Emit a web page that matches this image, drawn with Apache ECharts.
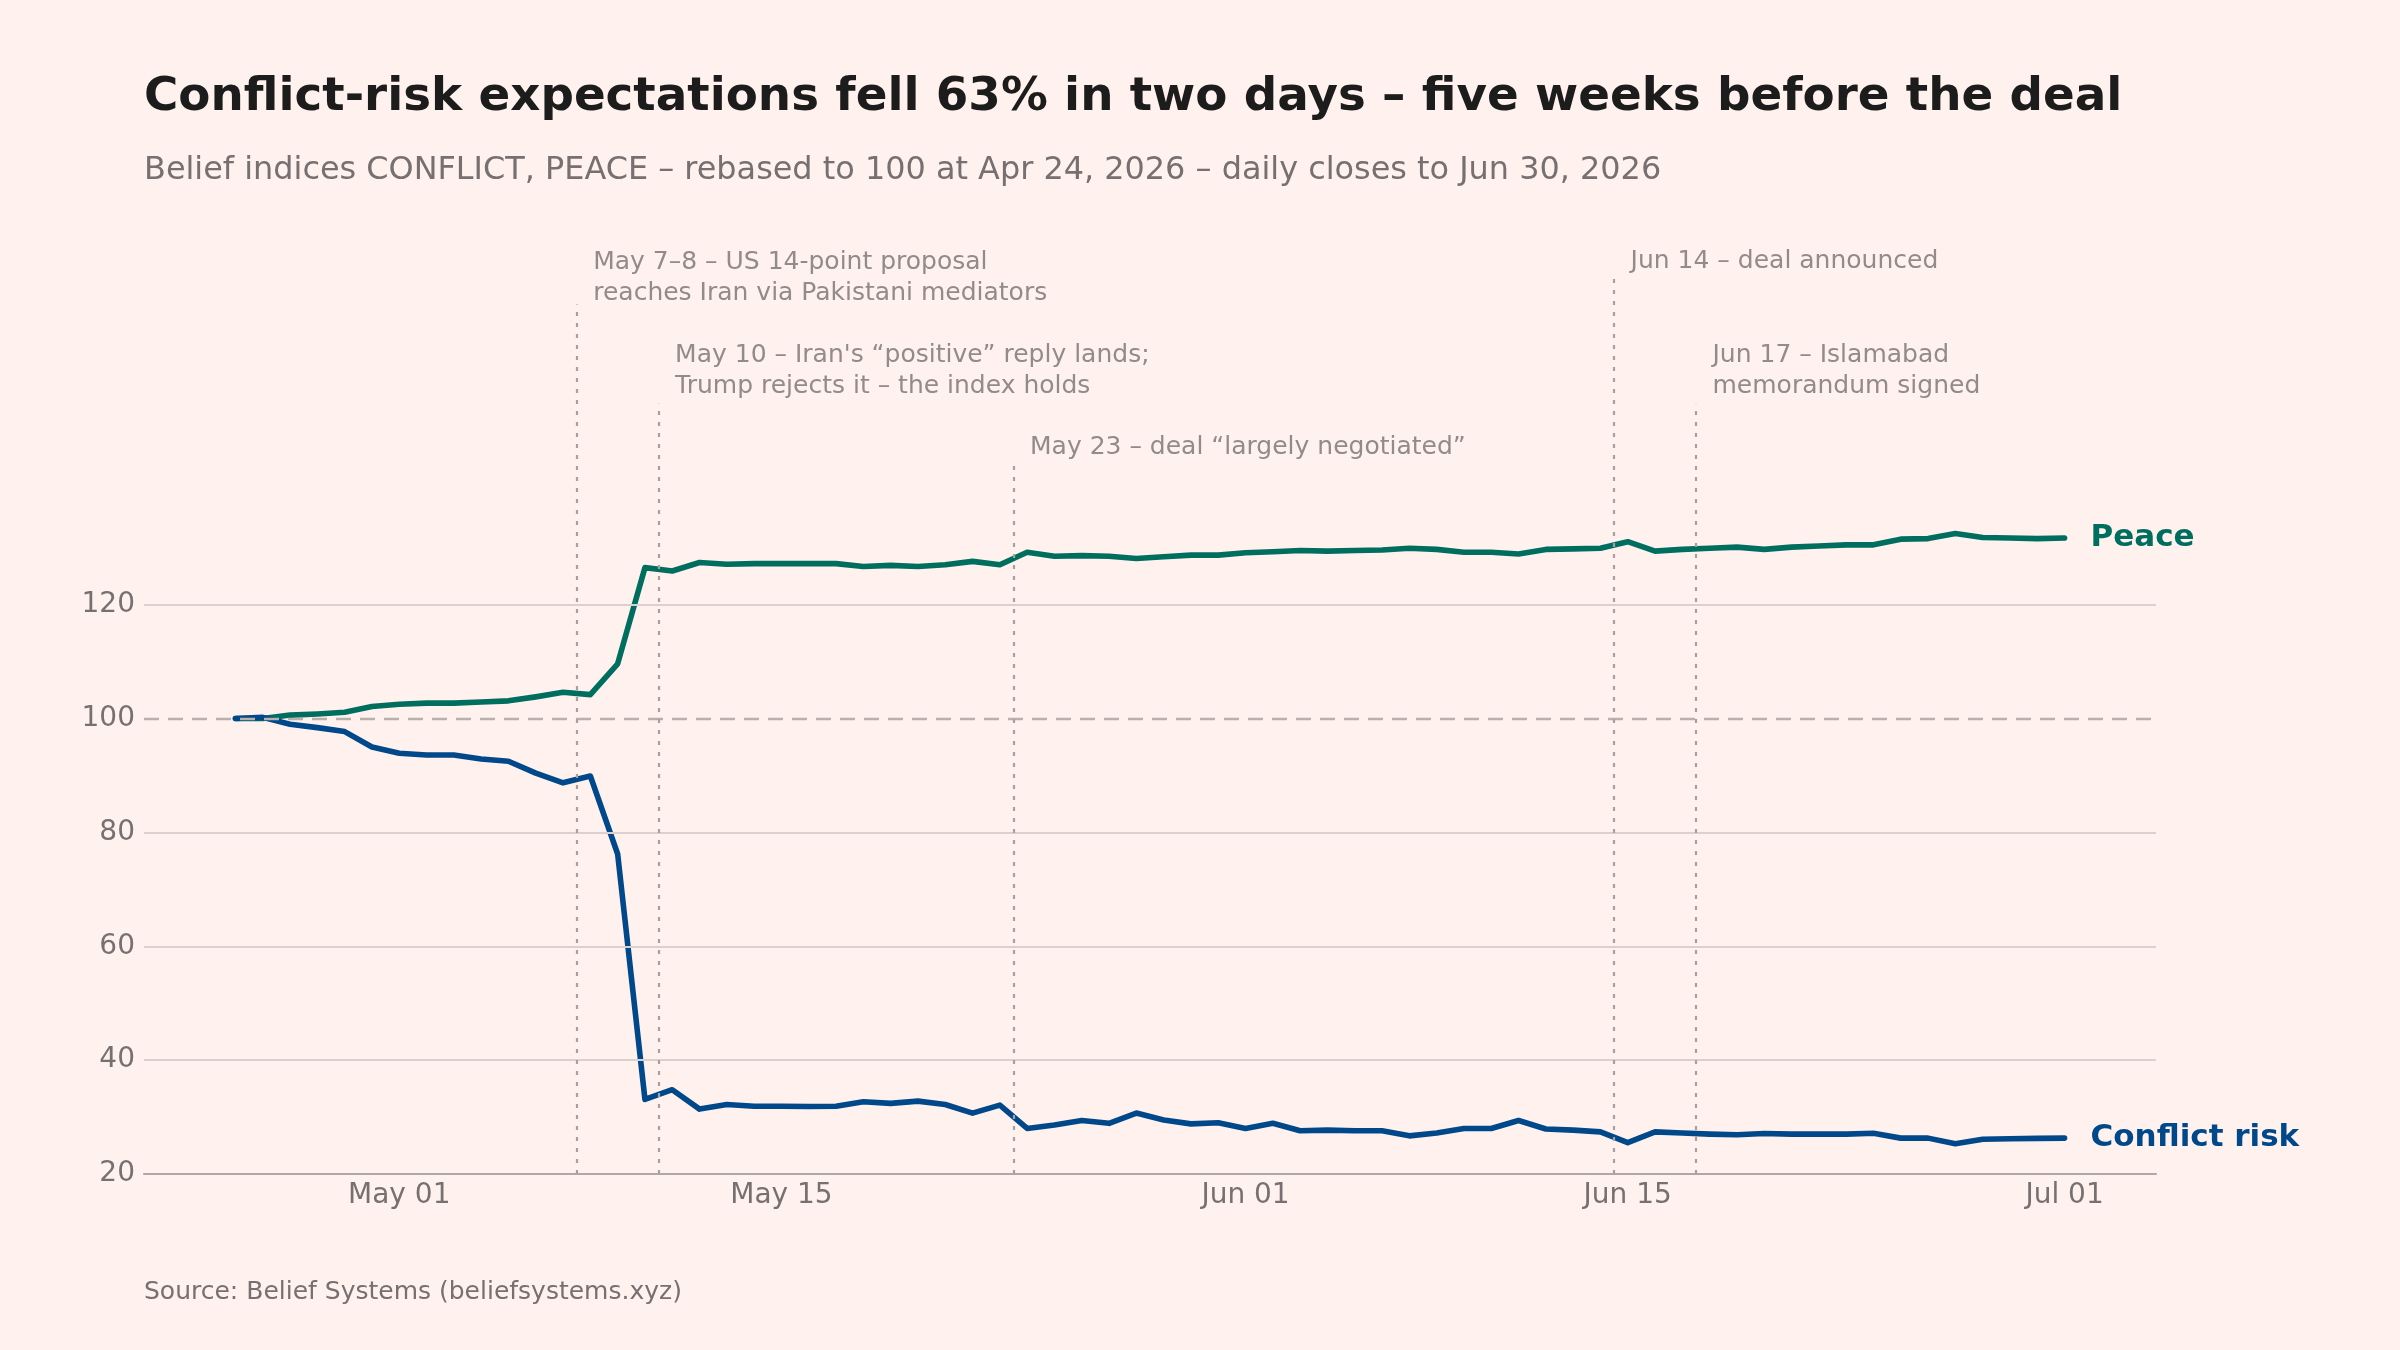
<!DOCTYPE html>
<html>
<head>
<meta charset="utf-8">
<script src="https://cdn.jsdelivr.net/npm/echarts@6/dist/echarts.min.js"></script>
<style>
  html, body { margin: 0; padding: 0; background: #FFF2EE; }
  #chart { width: 2400px; height: 1350px; }
</style>
</head>
<body>
<div id="chart"></div>
<script>
// ---------------- DATA ----------------
const startDate = '2026-04-25';   // first plotted daily close
const dayCount = 68;              // through 2026-07-01 (plot position)

const conflictValues = [
  100.0, 100.2, 99.0, 98.4, 97.7, 95.0,
  93.9, 93.6, 93.6, 92.9, 92.5, 90.4, 88.7, 89.9, 76.2, 33.1,
  34.8, 31.4, 32.2, 31.9, 31.9, 31.85, 31.9, 32.7, 32.4, 32.8,
  32.2, 30.7, 32.1, 28.0, 28.6, 29.4, 28.9, 30.7, 29.5, 28.8, 29.0,
  28.0, 28.9, 27.6, 27.7, 27.6, 27.6, 26.7, 27.2, 28.0, 28.0,
  29.4, 27.9, 27.7, 27.4, 25.5, 27.4, 27.2, 27.0, 26.9, 27.1,
  27.0, 27.0, 27.0, 27.15, 26.3, 26.3, 25.3, 26.1, 26.2, 26.25,
  26.3
];

const peaceValues = [
  100.0, 100.0, 100.6, 100.8, 101.1, 102.1,
  102.5, 102.7, 102.7, 102.9, 103.1, 103.8, 104.6, 104.2, 109.6, 126.5,
  125.9, 127.4, 127.1, 127.2, 127.2, 127.2, 127.2, 126.7, 126.9, 126.7,
  127.0, 127.6, 127.0, 129.2, 128.5, 128.6, 128.5, 128.1, 128.4, 128.7, 128.7,
  129.1, 129.3, 129.5, 129.4, 129.5, 129.6, 129.9, 129.7, 129.2, 129.2,
  128.9, 129.7, 129.8, 129.9, 131.05, 129.4, 129.7, 129.9, 130.1, 129.7,
  130.1, 130.3, 130.5, 130.5, 131.5, 131.6, 132.5, 131.8, 131.7, 131.6,
  131.7
];

const yTickValues = [20, 40, 60, 80, 100, 120];
const xTickDates = ['2026-05-01', '2026-05-15', '2026-06-01', '2026-06-15', '2026-07-01'];
const monthNames = ['Jan','Feb','Mar','Apr','May','Jun','Jul','Aug','Sep','Oct','Nov','Dec'];

// events: line positioned at midday of the date
const eventDates  = ['2026-05-07T12', '2026-05-10T12', '2026-05-23T12', '2026-06-14T12', '2026-06-17T12'];
const eventLabels = [
  'May 7–8 – US 14-point proposal\nreaches Iran via Pakistani mediators',
  'May 10 – Iran\'s “positive” reply lands;\nTrump rejects it – the index holds',
  'May 23 – deal “largely negotiated”',
  'Jun 14 – deal announced',
  'Jun 17 – Islamabad\nmemorandum signed'
];
const eventLineTops  = [172.7, 155.3, 144.4, 177.3, 155.3];
const eventLabelLevels = [171.9, 155.5, 144.8, 177.5, 155.5];

// ---------------- HELPERS ----------------
const DAY = 86400000;
function ts(s) {
  const [d, h] = s.split('T');
  const [y, m, dd] = d.split('-').map(Number);
  return Date.UTC(y, m - 1, dd, h ? Number(h) : 0);
}
const t0 = ts(startDate);
const dates = [];
for (let i = 0; i < dayCount; i++) dates.push(t0 + i * DAY);

const conflictData = dates.map((t, i) => [t, conflictValues[i]]);
const peaceData = dates.map((t, i) => [t, peaceValues[i]]);

const span = dates[dates.length - 1] - dates[0];
const xMin = dates[0] - span * 0.05;
const xMax = dates[dates.length - 1] + span * 0.05;

const FONT = 'DejaVu Sans';
const GREY = '#767070';
const GREEN = '#006E5F';
const BLUE = '#00488A';

const gridLines = yTickValues.filter(v => v !== 20 && v !== 100).map(v => ({
  yAxis: v, lineStyle: { color: '#DCD0CF', width: 1.8, type: 'solid' }
}));
gridLines.push({ yAxis: 100, lineStyle: { color: '#B9AFAD', width: 2.4, type: [15, 9] } });

const eventLineData = eventDates.map((d, i) => [
  { coord: [ts(d), 20] },
  { coord: [ts(d), eventLineTops[i]] }
]);

const annotationPoints = eventDates.map((d, i) => ({
  value: [ts(d), eventLabelLevels[i]],
  name: eventLabels[i]
}));

// ---------------- CHART ----------------
const chart = echarts.init(document.getElementById('chart'), null, { renderer: 'canvas' });

chart.setOption({
  backgroundColor: '#FFF2EE',
  animation: false,
  textStyle: { fontFamily: FONT },
  title: [
    {
      text: 'Conflict-risk expectations fell 63% in two days – five weeks before the deal',
      left: 144, top: 70, padding: 0,
      textStyle: { fontFamily: FONT, fontSize: 46.8, fontWeight: 'bold', color: '#1C1C1C', lineHeight: 56 }
    },
    {
      text: 'Belief indices CONFLICT, PEACE – rebased to 100 at Apr 24, 2026 – daily closes to Jun 30, 2026',
      left: 144, top: 151, padding: 0,
      textStyle: { fontFamily: FONT, fontSize: 31.9, fontWeight: 'normal', color: GREY, lineHeight: 40 }
    },
    {
      text: 'Source: Belief Systems (beliefsystems.xyz)',
      left: 144, top: 1277, padding: 0,
      textStyle: { fontFamily: FONT, fontSize: 25, fontWeight: 'normal', color: GREY, lineHeight: 30 }
    }
  ],
  grid: { left: 144, right: 244, top: 263, bottom: 176, containLabel: false },
  xAxis: {
    type: 'value',
    min: xMin, max: xMax,
    axisLine: { show: true, lineStyle: { color: '#B0A8A6', width: 2.2 } },
    axisTick: { show: false },
    splitLine: { show: false },
    axisLabel: {
      customValues: xTickDates.map(ts),
      formatter: v => {
        const d = new Date(v);
        return monthNames[d.getUTCMonth()] + ' ' + String(d.getUTCDate()).padStart(2, '0');
      },
      color: GREY, fontSize: 28, fontFamily: FONT, margin: 8
    }
  },
  yAxis: {
    type: 'value',
    min: 20, max: 180, interval: 20,
    axisLine: { show: false },
    axisTick: { show: false },
    splitLine: { show: false },
    axisLabel: {
      customValues: yTickValues,
      color: GREY, fontSize: 28, fontFamily: FONT, margin: 9
    }
  },
  series: [
    {
      name: 'annotations',
      type: 'scatter',
      z: 1,
      silent: true,
      symbolSize: 1,
      itemStyle: { color: 'rgba(0,0,0,0)' },
      data: annotationPoints,
      label: {
        show: true,
        position: [17, 0],
        align: 'left',
        verticalAlign: 'bottom',
        formatter: p => p.name,
        color: GREY,
        fontSize: 25,
        lineHeight: 31,
        fontFamily: FONT
      },
      labelLayout: { hideOverlap: false },
      markLine: {
        silent: true,
        symbol: ['none', 'none'],
        label: { show: false },
        lineStyle: { color: '#A89F9E', width: 2.2, type: [4, 7] },
        data: gridLines.concat(eventLineData)
      }
    },
    {
      name: 'Peace',
      type: 'line',
      z: 3,
      data: peaceData,
      showSymbol: false,
      lineStyle: { color: GREEN, width: 5.6, join: 'round', cap: 'round' },
      itemStyle: { color: GREEN },
      endLabel: {
        show: true,
        formatter: 'Peace',
        distance: 26,
        color: GREEN, fontSize: 31, fontWeight: 'bold', fontFamily: FONT
      }
    },
    {
      name: 'Conflict risk',
      type: 'line',
      z: 3,
      data: conflictData,
      showSymbol: false,
      lineStyle: { color: BLUE, width: 5.6, join: 'round', cap: 'round' },
      itemStyle: { color: BLUE },
      endLabel: {
        show: true,
        formatter: 'Conflict risk',
        distance: 26,
        color: BLUE, fontSize: 31, fontWeight: 'bold', fontFamily: FONT
      }
    }
  ]
});
</script>
</body>
</html>
